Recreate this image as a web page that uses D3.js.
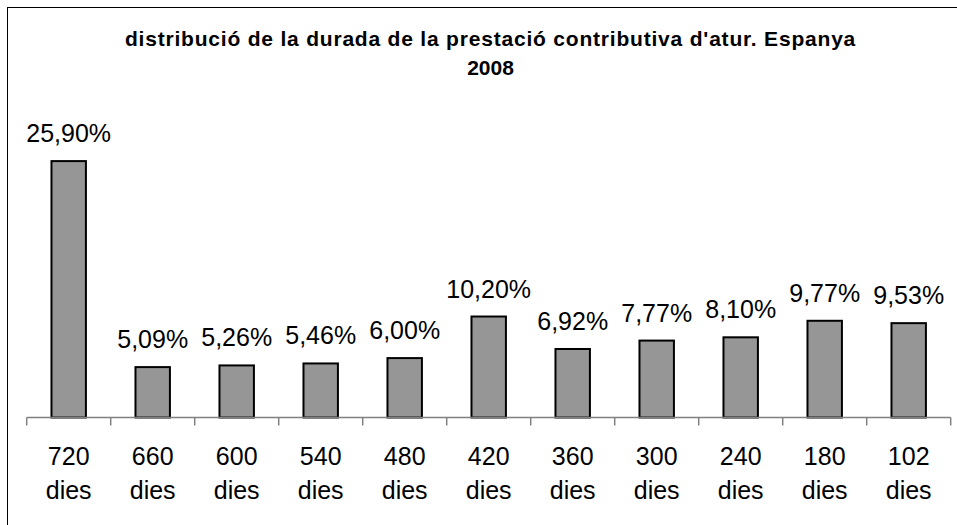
<!DOCTYPE html>
<html><head><meta charset="utf-8">
<script src="https://cdn.jsdelivr.net/npm/d3@7"></script>
<style>body{margin:0;background:#fff}svg{display:block}text{font-family:"Liberation Sans",Arial,sans-serif}</style>
</head><body>
<svg id="c" width="957" height="525"></svg>
<script>
const categories = ["720 dies","660 dies","600 dies","540 dies","480 dies","420 dies","360 dies","300 dies","240 dies","180 dies","102 dies"];
const values = [25.90,5.09,5.26,5.46,6.00,10.20,6.92,7.77,8.10,9.77,9.53];
const valueLabels = ["25,90%","5,09%","5,26%","5,46%","6,00%","10,20%","6,92%","7,77%","8,10%","9,77%","9,53%"];
const titleLines = ["distribució de la durada de la prestació contributiva d'atur. Espanya","2008"];

const svg = d3.select("#c");
svg.append("rect").attr("x",7.5).attr("y",7.5).attr("width",1000).attr("height",1000)
  .attr("fill","#fff").attr("stroke","#000").attr("stroke-width",1);

const x = d3.scaleBand().domain(categories).range([26.7,950.7]).padding(0);
const y = d3.scaleLinear().domain([0,30]).range([417.5,120.5]);
const bw = x.bandwidth()*0.41;

svg.selectAll("rect.bar").data(values).enter().append("rect").attr("class","bar")
  .attr("x",(d,i)=>x(categories[i])+x.bandwidth()/2-bw/2)
  .attr("y",d=>y(d))
  .attr("width",bw)
  .attr("height",d=>y(0)-y(d))
  .attr("fill","#969696").attr("stroke","#000").attr("stroke-width",2);

svg.selectAll("text.vl").data(values).enter().append("text").attr("class","vl")
  .attr("x",(d,i)=>x(categories[i])+x.bandwidth()/2)
  .attr("y",d=>y(d)-19)
  .attr("text-anchor","middle").attr("font-size",25).attr("fill","#000")
  .text((d,i)=>valueLabels[i]);

// axis
const ax = svg.append("g").attr("transform","translate(0,417.5)");
ax.append("line").attr("x1",x.range()[0]).attr("x2",x.range()[1]).attr("stroke","#808080").attr("stroke-width",1.5);
const tickPos = categories.map(c=>x(c)).concat([x.range()[1]]);
ax.selectAll("line.t").data(tickPos).enter().append("line").attr("class","t")
  .attr("x1",d=>d).attr("x2",d=>d).attr("y1",0).attr("y2",8)
  .attr("stroke","#808080").attr("stroke-width",1.5);
const lbl = svg.selectAll("text.cl").data(categories).enter().append("text").attr("class","cl")
  .attr("text-anchor","middle").attr("font-size",25).attr("fill","#000");
lbl.each(function(c){
  const parts = c.split(" ");
  const cx = x(c)+x.bandwidth()/2;
  d3.select(this).selectAll("tspan").data(parts).enter().append("tspan")
    .attr("x",cx).attr("y",(p,j)=>464.5+j*34).text(p=>p);
});

svg.selectAll("text.title").data(titleLines).enter().append("text").attr("class","title")
  .attr("x",490.5).attr("y",(d,i)=>46+i*29)
  .attr("text-anchor","middle").attr("font-size",21).attr("font-weight","bold")
  .attr("letter-spacing",(d,i)=>i===0?0.8:0)
  .text(d=>d);
</script>
</body></html>
